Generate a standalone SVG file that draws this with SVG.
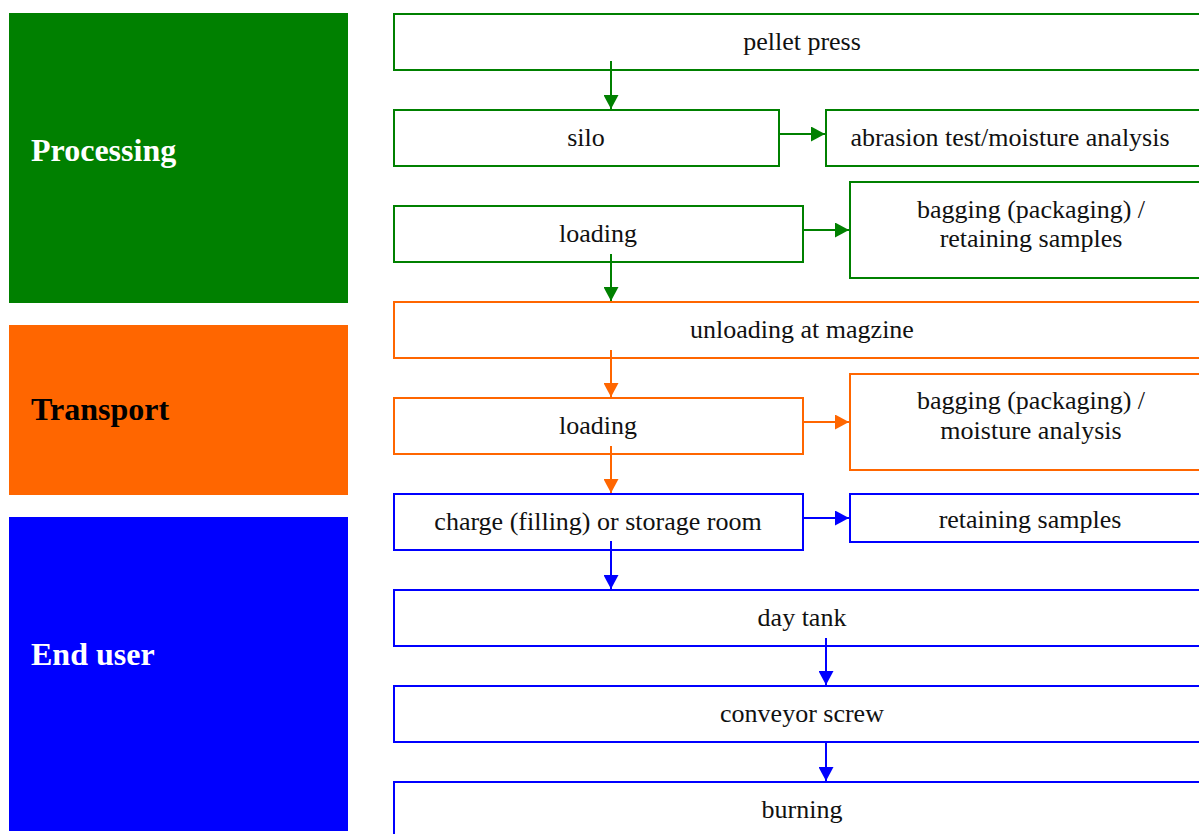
<svg xmlns="http://www.w3.org/2000/svg" width="1199" height="834" viewBox="0 0 1199 834">
<style>
.t{font-family:"Liberation Serif","Times New Roman",serif;font-size:26px;fill:#111;text-anchor:middle}
.h{font-family:"Liberation Serif","Times New Roman",serif;font-size:32px;font-weight:bold}
.g{fill:#fff;stroke:#008000;stroke-width:2}
.o{fill:#fff;stroke:#FF6600;stroke-width:2}
.b{fill:#fff;stroke:#0000FF;stroke-width:2}
.lg{stroke:#008000;stroke-width:2;fill:none;marker-end:url(#ag)}
.lo{stroke:#FF6600;stroke-width:2;fill:none;marker-end:url(#ao)}
.lb{stroke:#0000FF;stroke-width:2;fill:none;marker-end:url(#ab)}
</style>
<defs>
<marker id="ag" markerUnits="userSpaceOnUse" markerWidth="15" markerHeight="15" refX="14" refY="7.5" orient="auto"><path d="M0,0 L14,7.5 L0,15 Z" fill="#008000"/></marker>
<marker id="ao" markerUnits="userSpaceOnUse" markerWidth="15" markerHeight="15" refX="14" refY="7.5" orient="auto"><path d="M0,0 L14,7.5 L0,15 Z" fill="#FF6600"/></marker>
<marker id="ab" markerUnits="userSpaceOnUse" markerWidth="15" markerHeight="15" refX="14" refY="7.5" orient="auto"><path d="M0,0 L14,7.5 L0,15 Z" fill="#0000FF"/></marker>
</defs>
<rect width="1199" height="834" fill="#fff"/>
<g id="phase-processing"><rect x="9" y="13" width="339" height="290" fill="#008000"/><text class="h" x="31" y="161" fill="#fff">Processing</text></g>
<g id="phase-transport"><rect x="9" y="325" width="339" height="170" fill="#FF6600"/><text class="h" x="31" y="420" fill="#000">Transport</text></g>
<g id="phase-enduser"><rect x="9" y="517" width="339" height="314" fill="#0000FF"/><text class="h" x="31" y="665" fill="#fff">End user</text></g>

<g id="pellet-press"><rect class="g" x="394" y="14" width="817" height="56"/><text class="t" x="802" y="50">pellet press</text></g>
<g id="silo"><rect class="g" x="394" y="110" width="385" height="56"/><text class="t" x="586" y="146">silo</text></g>
<g id="abrasion-test"><rect class="g" x="826" y="110" width="385" height="56"/><text class="t" x="1010" y="146">abrasion test/moisture analysis</text></g>
<g id="loading-1"><rect class="g" x="394" y="206" width="409" height="56"/><text class="t" x="598" y="242">loading</text></g>
<g id="bagging-1"><rect class="g" x="850" y="182" width="361" height="96"/><text class="t" x="1031" y="218">bagging (packaging) /</text><text class="t" x="1031" y="247">retaining samples</text></g>
<g id="unloading"><rect class="o" x="394" y="302" width="817" height="56"/><text class="t" x="802" y="338">unloading at magzine</text></g>
<g id="loading-2"><rect class="o" x="394" y="398" width="409" height="56"/><text class="t" x="598" y="434">loading</text></g>
<g id="bagging-2"><rect class="o" x="850" y="374" width="361" height="96"/><text class="t" x="1031" y="409">bagging (packaging) /</text><text class="t" x="1031" y="439">moisture analysis</text></g>
<g id="charge"><rect class="b" x="394" y="494" width="409" height="56"/><text class="t" x="598" y="530">charge (filling) or storage room</text></g>
<g id="retaining"><rect class="b" x="850" y="494" width="361" height="48"/><text class="t" x="1030" y="528">retaining samples</text></g>
<g id="day-tank"><rect class="b" x="394" y="590" width="817" height="56"/><text class="t" x="802" y="626">day tank</text></g>
<g id="conveyor"><rect class="b" x="394" y="686" width="817" height="56"/><text class="t" x="802" y="722">conveyor screw</text></g>
<g id="burning"><rect class="b" x="394" y="782" width="817" height="70"/><text class="t" x="802" y="818">burning</text></g>

<g id="connectors">
<line class="lg" x1="611" y1="61" x2="611" y2="109"/>
<line class="lg" x1="779" y1="134" x2="825" y2="134"/>
<line class="lg" x1="803" y1="230" x2="849" y2="230"/>
<line class="lg" x1="611" y1="254" x2="611" y2="301"/>
<line class="lo" x1="611" y1="350" x2="611" y2="397"/>
<line class="lo" x1="803" y1="422" x2="849" y2="422"/>
<line class="lo" x1="611" y1="446" x2="611" y2="493"/>
<line class="lb" x1="803" y1="518" x2="849" y2="518"/>
<line class="lb" x1="611" y1="541" x2="611" y2="589"/>
<line class="lb" x1="826" y1="638" x2="826" y2="685"/>
<line class="lb" x1="826" y1="742" x2="826" y2="781"/>
</g>
</svg>
